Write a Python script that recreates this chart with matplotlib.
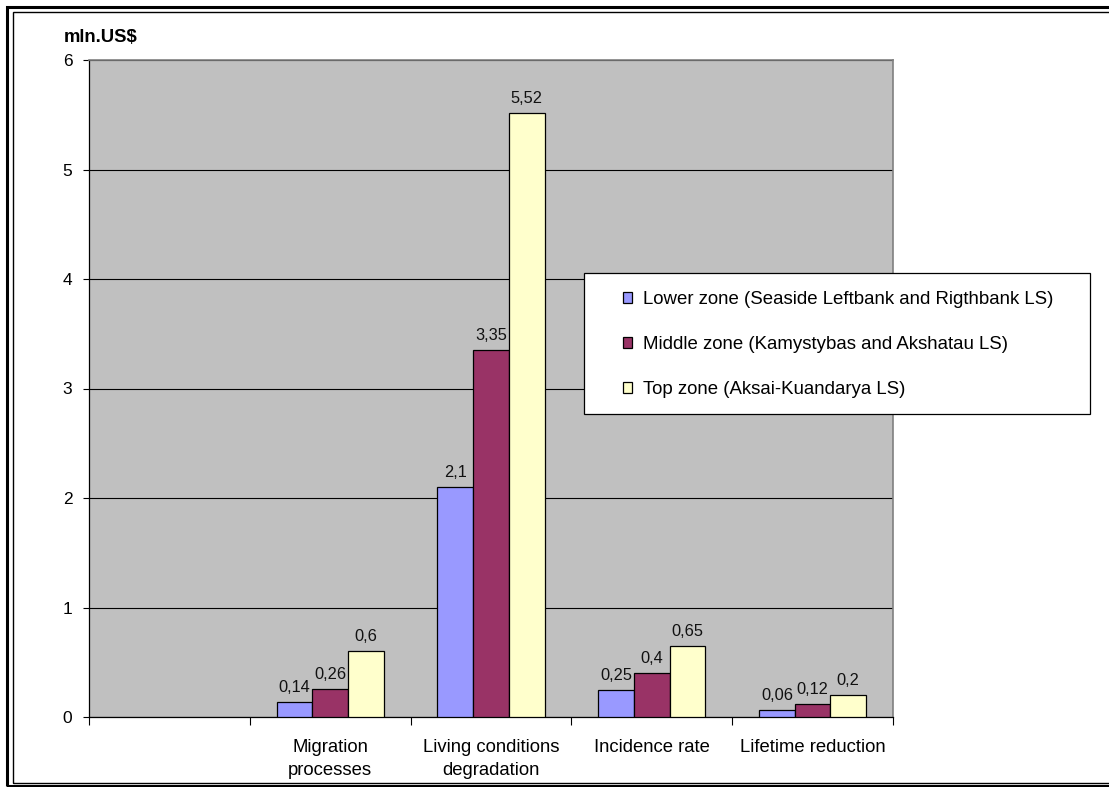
import numpy as np
import matplotlib
matplotlib.use('Agg')
import matplotlib.pyplot as plt
from matplotlib.patches import Rectangle

plt.rcParams['font.family'] = ['Liberation Sans', 'DejaVu Sans']

# data (first category slot is empty in the original)
categories = ['Migration\nprocesses', 'Living conditions\ndegradation',
              'Incidence rate', 'Lifetime reduction']
series_names = ['Lower zone (Seaside Leftbank and Rigthbank LS)',
                'Middle zone (Kamystybas and Akshatau LS)',
                'Top zone (Aksai-Kuandarya LS)']
lower = [0.14, 2.1, 0.25, 0.06]
middle = [0.26, 3.35, 0.4, 0.12]
top = [0.6, 5.52, 0.65, 0.2]
colours = ['#9999FF', '#993366', '#FFFFCC']

W, H = 1109, 787
fig = plt.figure(figsize=(W / 100, H / 100), dpi=100)
ax = fig.add_axes([89 / W, 1 - 717 / H, (893 - 89) / W, (717 - 60) / H])
ax.set_facecolor('#C0C0C0')

x = np.arange(1, len(categories) + 1)
width = 0.222
for k, (vals, name, col) in enumerate(zip([lower, middle, top], series_names, colours)):
    bars = ax.bar(x + (k - 1) * width, vals, width, color=col, edgecolor='black',
                  linewidth=0.9, label=name, zorder=3)
    ax.bar_label(bars, labels=[str(v).replace('.', ',') for v in vals],
                 padding=5, fontsize=11.8, color='#111111')

ax.set_xlim(-0.5, len(categories) + 0.5)
ax.set_ylim(0, 6)
ax.set_yticks(range(0, 7))
ax.yaxis.grid(True, color='black', linewidth=0.8, zorder=1)
ax.tick_params(axis='y', direction='out', length=4, width=0.8, pad=8, labelsize=12.5)

ax.set_xticks(x)
ax.set_xticklabels(categories, fontsize=13.3, linespacing=1.42)
ax.set_xticks(np.arange(-0.5, len(categories) + 1), minor=True)
ax.tick_params(axis='x', which='major', length=0, pad=16)
ax.tick_params(axis='x', which='minor', length=6, width=0.8, direction='out')

for side in ['top', 'right']:
    ax.spines[side].set_color('#808080')
    ax.spines[side].set_linewidth(1.2)
for side in ['left', 'bottom']:
    ax.spines[side].set_color('black')
    ax.spines[side].set_linewidth(0.9)

fig.text(64 / W, 1 - 38 / H, 'mln.US$', fontsize=13.3, fontweight='bold',
         ha='left', va='center')

# legend box
fig.patches.append(Rectangle((584 / W, 1 - 414 / H), (1090 - 584) / W, (414 - 273) / H,
                             transform=fig.transFigure, facecolor='white',
                             edgecolor='black', linewidth=0.9, zorder=5))
handles, labels = ax.get_legend_handles_labels()
leg = fig.legend(handles, labels, loc='upper left',
                 bbox_to_anchor=(623 / W, 1 - 291 / H), frameon=False,
                 fontsize=13.4, handlelength=0.5, handleheight=0.5,
                 handletextpad=0.55, labelspacing=1.5, borderpad=0,
                 borderaxespad=0)
leg.set_zorder(6)

# outer frame
fig.patches.append(Rectangle((6.5 / W, 1.5 / H), 1.2, 1 - 8 / H,
                             transform=fig.transFigure, fill=False,
                             edgecolor='black', linewidth=2.2))
fig.patches.append(Rectangle((13 / W, 1 - 783 / H), 1.2, (783 - 12) / H,
                             transform=fig.transFigure, fill=False,
                             edgecolor='black', linewidth=1.0))

fig.savefig('out.png', dpi=100, facecolor='white')
